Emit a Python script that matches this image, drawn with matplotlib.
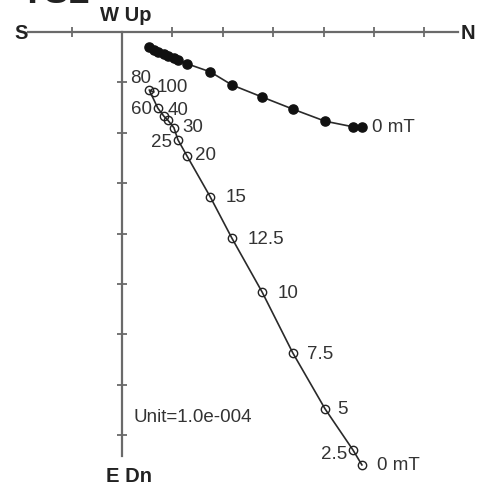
import numpy as np
import matplotlib.pyplot as plt

plt.rcParams['font.family'] = ['Liberation Sans', 'DejaVu Sans']

# Pasos de desmagnetización (mT)
steps = [0, 2.5, 5, 7.5, 10, 12.5, 15, 20, 25, 30, 40, 50, 60, 80, 100]
step_labels = ['0 mT', '2.5', '5', '7.5', '10', '12.5', '15', '20', '25', '30', '40', '', '60', '80', '100']

# Componente N (común a ambas proyecciones), unidades de 1.0e-4
north = [4.76, 4.58, 4.03, 3.39, 2.78, 2.18, 1.75, 1.29, 1.11, 1.03, 0.91, 0.83, 0.71, 0.54, 0.63]
# Proyección horizontal (W positivo) -> puntos llenos
west = [-1.88, -1.88, -1.77, -1.53, -1.29, -1.05, -0.79, -0.63, -0.55, -0.52, -0.48, -0.44, -0.40, -0.30, -0.36]
# Proyección vertical (Up positivo) -> puntos vacíos
up = [-8.59, -8.29, -7.48, -6.37, -5.16, -4.09, -3.27, -2.46, -2.14, -1.90, -1.75, -1.67, -1.51, -1.15, -1.19]

# ticks de los ejes
x_ticks = [-1, 1, 2, 3, 4, 5, 6]
y_ticks = [-1, -2, -3, -4, -5, -6, -7, -8]

# desplazamiento de las etiquetas (en puntos) y alineación
lab_off = [(11, 0, 'left'), (-4, -3, 'right'), (9, 0, 'left'), (10, 0, 'left'),
           (11, 0, 'left'), (11, 0, 'left'), (11, 0, 'left'), (6, 1, 'left'),
           (-4, -1, 'right'), (6, 1, 'left'), (0, 8, 'left'), (0, 0, 'left'),
           (-4, 0, 'right'), (-14, 9, 'left'), (2, 4, 'left')]

fig = plt.figure(figsize=(4.81, 4.89), dpi=100)
ax = fig.add_axes([0, 0, 1, 1])
ax.axis('off')
ax.set_xlim(-2.421, 7.123)
ax.set_ylim(-9.048, 0.655)

axis_col = '#6a6a6a'
ax.plot([-1.87, 6.67], [0, 0], color=axis_col, lw=1.6, zorder=1)
ax.plot([0, 0], [0, -8.41], color=axis_col, lw=1.6, zorder=1)
ax.plot(x_ticks, [0] * len(x_ticks), ls='none', marker='|', ms=7, mew=1.3, color=axis_col)
ax.plot([0] * len(y_ticks), y_ticks, ls='none', marker='_', ms=7, mew=1.3, color=axis_col)

bold = dict(fontsize=14.5, fontweight='bold', color='#222222')
ax.text(-2.0, 0, 'S', ha='center', va='center', **bold)
ax.text(6.87, 0, 'N', ha='center', va='center', **bold)
ax.text(0.08, 0.16, 'W Up', ha='center', va='bottom', **bold)
ax.text(0.14, -8.8, 'E Dn', ha='center', va='center', **bold)
# nombre de la muestra, cortado por el borde superior
ax.text(-2.04, 0.59, 'YS2', ha='left', va='baseline', fontsize=27,
        fontweight='bold', color='#222222')

# datos
ax.plot(north, west, color='#2a2a2a', lw=1.2, marker='o', ms=6.6,
        mfc='#111111', mec='#111111', zorder=3)
ax.plot(north, up, color='#2a2a2a', lw=1.2, marker='o', ms=6, mfc='none',
        mec='#222222', mew=1.0, zorder=3)

ax.annotate('0 mT', (north[0], west[0]), xytext=(7, 0), textcoords='offset points',
            ha='left', va='center', fontsize=13.5, color='#333333')
for i, lab in enumerate(step_labels):
    if not lab:
        continue
    dx, dy, ha = lab_off[i]
    ax.annotate(lab, (north[i], up[i]), xytext=(dx, dy), textcoords='offset points',
                ha=ha, va='center', fontsize=13.5, color='#333333')

ax.text(0.22, -7.63, 'Unit=1.0e-004', ha='left', va='center', fontsize=13.5, color='#333333')

fig.savefig('out.png', dpi=100)
